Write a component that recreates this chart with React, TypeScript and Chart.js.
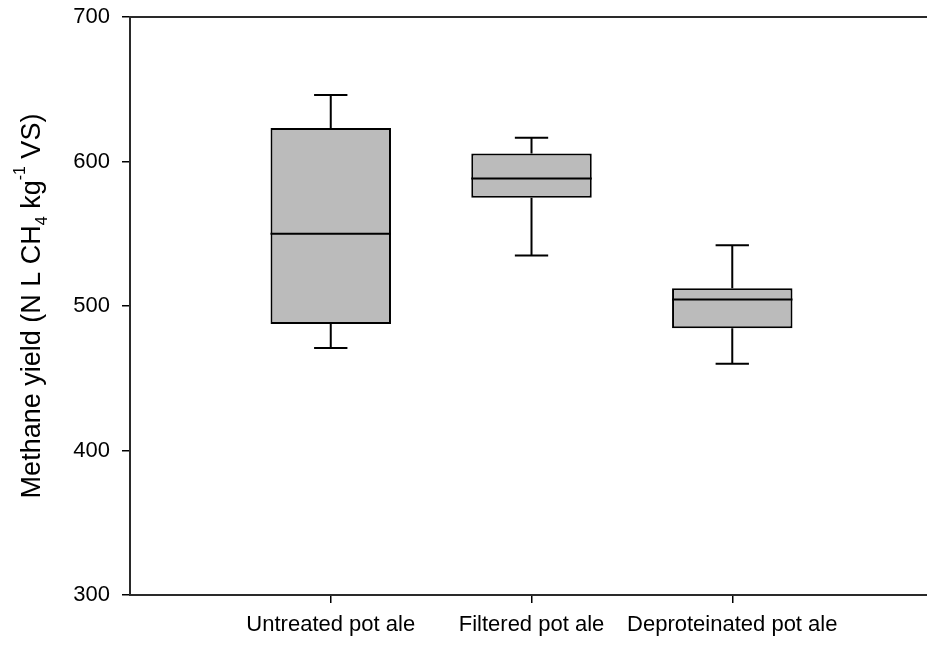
import { useEffect, useRef } from "react";
import { Chart, registerables } from "chart.js";

Chart.register(...registerables);

const CATEGORIES = ["Untreated pot ale", "Filtered pot ale", "Deproteinated pot ale"];
const POSITIONS = [1, 2, 3];
const MINS = [471, 535, 460];
const Q1S = [487.6, 575, 484.6];
const MEDIANS = [550, 588.2, 504.5];
const Q3S = [623.2, 605.5, 512.2];
const MAXS = [646, 616.4, 542];
const Y_TICKS = [300, 400, 500, 600, 700];
const Y_TITLE_PARTS = [
  { text: "Methane yield (N L CH", kind: "normal" },
  { text: "4", kind: "sub" },
  { text: " kg", kind: "normal" },
  { text: "-1", kind: "sup" },
  { text: " VS)", kind: "normal" },
];

const FONT = "'Liberation Sans', Arial, Helvetica, sans-serif";
const CAP_HALF = 0.083;

const boxPlugin = {
  id: "boxWhiskers",
  afterDatasetsDraw(chart: any) {
    const ctx = chart.ctx;
    const xs = chart.scales.x;
    const ys = chart.scales.y;
    const meta = chart.getDatasetMeta(0);
    ctx.save();
    ctx.strokeStyle = "#000";
    ctx.lineWidth = 2;
    ctx.lineCap = "butt";
    POSITIONS.forEach((p, i) => {
      const bar = meta.data[i];
      const cx = xs.getPixelForValue(p);
      const half = bar.width / 2;
      const capHalf = xs.getPixelForValue(p + CAP_HALF) - cx;
      const yMin = ys.getPixelForValue(MINS[i]);
      const yQ1 = ys.getPixelForValue(Q1S[i]);
      const yMed = ys.getPixelForValue(MEDIANS[i]);
      const yQ3 = ys.getPixelForValue(Q3S[i]);
      const yMax = ys.getPixelForValue(MAXS[i]);
      ctx.beginPath();
      ctx.moveTo(cx - half, yMed);
      ctx.lineTo(cx + half, yMed);
      ctx.moveTo(cx, yQ3);
      ctx.lineTo(cx, yMax);
      ctx.moveTo(cx - capHalf, yMax);
      ctx.lineTo(cx + capHalf, yMax);
      ctx.moveTo(cx, yQ1);
      ctx.lineTo(cx, yMin);
      ctx.moveTo(cx - capHalf, yMin);
      ctx.lineTo(cx + capHalf, yMin);
      ctx.stroke();
    });
    ctx.restore();
  },
};

const yTitlePlugin = {
  id: "yTitleRich",
  afterDraw(chart: any) {
    const ctx = chart.ctx;
    const area = chart.chartArea;
    const mainSize = 27;
    const smallSize = 16;
    const fontFor = (kind: string) => `${kind === "normal" ? mainSize : smallSize}px ${FONT}`;
    ctx.save();
    let total = 0;
    const widths = Y_TITLE_PARTS.map((part) => {
      ctx.font = fontFor(part.kind);
      const w = ctx.measureText(part.text).width;
      total += w;
      return w;
    });
    ctx.translate(40, (area.top + area.bottom) / 2);
    ctx.rotate(-Math.PI / 2);
    ctx.fillStyle = "#000";
    ctx.textAlign = "left";
    ctx.textBaseline = "alphabetic";
    let x = -total / 2;
    Y_TITLE_PARTS.forEach((part, i) => {
      ctx.font = fontFor(part.kind);
      const dy = part.kind === "sub" ? 6.5 : part.kind === "sup" ? -15 : 0;
      ctx.fillText(part.text, x, dy);
      x += widths[i];
    });
    ctx.restore();
  },
};

export default function App() {
  const canvasRef = useRef<HTMLCanvasElement | null>(null);

  useEffect(() => {
    if (!canvasRef.current) return;
    const chart = new Chart(canvasRef.current, {
      type: "bar",
      data: {
        datasets: [
          {
            data: POSITIONS.map((p, i) => ({ x: p, y: [Q1S[i], Q3S[i]] })) as any,
            backgroundColor: "#bbbbbb",
            borderColor: "#000",
            borderWidth: 2,
            borderSkipped: false,
            barPercentage: 0.6,
            categoryPercentage: 1,
          },
        ],
      },
      options: {
        animation: false,
        responsive: true,
        maintainAspectRatio: false,
        layout: { padding: { top: 17, left: 0, right: 0, bottom: 0 } },
        plugins: {
          legend: { display: false },
          tooltip: { enabled: false },
          title: { display: false },
        },
        scales: {
          x: {
            type: "linear",
            position: "bottom",
            offset: false,
            min: 0,
            max: 3.97,
            afterBuildTicks: (s: any) => {
              s.ticks = POSITIONS.map((v) => ({ value: v }));
            },
            afterFit: (s: any) => {
              s.height = 50;
              s.paddingLeft = 0;
              s.paddingRight = 0;
            },
            ticks: {
              autoSkip: false,
              maxRotation: 0,
              color: "#000",
              padding: 9,
              font: { family: FONT, size: 22 },
              callback: (v: any) => CATEGORIES[POSITIONS.indexOf(Number(v))] ?? "",
            },
            grid: {
              display: true,
              offset: false,
              drawOnChartArea: false,
              drawTicks: true,
              tickLength: 8,
              color: "#000",
              lineWidth: 1.5,
            },
            border: { display: true, color: "#2a2a2a", width: 2 },
          },
          x2: {
            type: "linear",
            position: "top",
            offset: false,
            min: 0,
            max: 3.97,
            afterFit: (s: any) => {
              s.height = 0;
              s.paddingLeft = 0;
              s.paddingRight = 0;
            },
            ticks: { display: false },
            grid: { display: true, offset: false, drawOnChartArea: false, drawTicks: false },
            border: { display: true, color: "#2a2a2a", width: 2 },
          },
          y: {
            type: "linear",
            position: "left",
            min: 300,
            max: 700,
            afterBuildTicks: (s: any) => {
              s.ticks = Y_TICKS.map((v) => ({ value: v }));
            },
            afterFit: (s: any) => {
              s.width = 130;
              s.paddingTop = 0;
              s.paddingBottom = 0;
            },
            ticks: {
              color: "#000",
              padding: 12,
              font: { family: FONT, size: 22 },
            },
            grid: {
              display: true,
              drawOnChartArea: false,
              drawTicks: true,
              tickLength: 8,
              color: "#000",
              lineWidth: 1.5,
            },
            border: { display: true, color: "#2a2a2a", width: 2 },
          },
        },
      },
      plugins: [boxPlugin, yTitlePlugin],
    });
    return () => chart.destroy();
  }, []);

  return (
    <div style={{ position: "fixed", left: 0, top: 0, width: 927, height: 645, background: "#fff" }}>
      <canvas ref={canvasRef} />
    </div>
  );
}
